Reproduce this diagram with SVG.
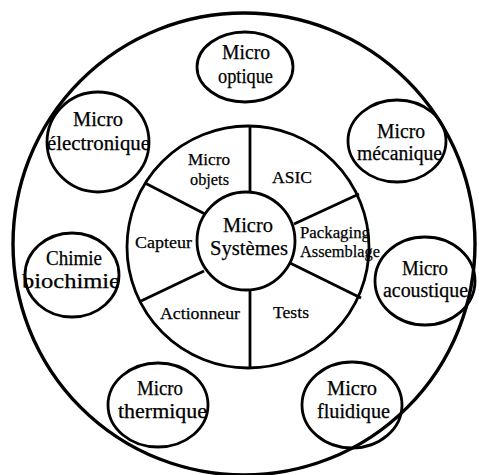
<svg xmlns="http://www.w3.org/2000/svg" width="479" height="475" viewBox="0 0 479 475">
<style>
.c{fill:none;stroke:#000;stroke-width:2.8}
.o{fill:none;stroke:#000;stroke-width:3.4}
.l{stroke:#000;stroke-width:2.8;fill:none}
text{font-family:"Liberation Serif","Times New Roman",serif;fill:#000;text-anchor:middle;stroke:#000;stroke-width:0.25}
.t{font-size:20px}
.s{font-size:17.5px}
.m{font-size:21.5px}
</style>
<rect width="479" height="475" fill="#fff"/>
<g id="outer"><circle class="o" cx="244" cy="244" r="231"/></g>
<g id="ring"><circle class="c" cx="248" cy="247" r="121"/></g>
<g id="connectors">
<line class="l" x1="250" y1="127" x2="250" y2="192"/>
<line class="l" x1="145" y1="183" x2="205" y2="214"/>
<line class="l" x1="359" y1="194" x2="294" y2="224"/>
<line class="l" x1="141" y1="301" x2="204" y2="271"/>
<line class="l" x1="290" y1="263" x2="361" y2="298"/>
<line class="l" x1="250" y1="290" x2="250" y2="368"/>
</g>
<g id="center"><circle class="c" cx="246" cy="241" r="49"/>
<text class="m" x="248" y="232" textLength="50" lengthAdjust="spacingAndGlyphs">Micro</text>
<text class="m" x="249" y="255" textLength="78" lengthAdjust="spacingAndGlyphs">Systèmes</text></g>
<g id="microobjets"><text class="s" x="209" y="165" textLength="42" lengthAdjust="spacingAndGlyphs">Micro</text><text class="s" x="209.5" y="185" textLength="39" lengthAdjust="spacingAndGlyphs">objets</text></g>
<g id="asic"><text class="s" x="292" y="183" textLength="40" lengthAdjust="spacingAndGlyphs">ASIC</text></g>
<g id="capteur"><text class="s" x="163.5" y="248" textLength="57" lengthAdjust="spacingAndGlyphs">Capteur</text></g>
<g id="packaging"><text class="s" x="335" y="238" textLength="70" lengthAdjust="spacingAndGlyphs">Packaging</text><text class="s" x="340" y="257" textLength="80" lengthAdjust="spacingAndGlyphs">Assemblage</text></g>
<g id="actionneur"><text class="s" x="200" y="319" textLength="80" lengthAdjust="spacingAndGlyphs">Actionneur</text></g>
<g id="tests"><text class="s" x="291" y="318" textLength="36" lengthAdjust="spacingAndGlyphs">Tests</text></g>
<g id="optique"><ellipse class="c" cx="245" cy="67" rx="48" ry="35"/>
<text class="t" x="246" y="59" textLength="48" lengthAdjust="spacingAndGlyphs">Micro</text><text class="t" x="245.5" y="83" textLength="55" lengthAdjust="spacingAndGlyphs">optique</text></g>
<g id="electronique"><ellipse class="c" cx="98" cy="142" rx="51" ry="50"/>
<text class="t" x="98" y="126" textLength="50" lengthAdjust="spacingAndGlyphs">Micro</text><text class="t" x="98.5" y="150" textLength="103" lengthAdjust="spacingAndGlyphs">électronique</text></g>
<g id="mecanique"><ellipse class="c" cx="397" cy="141" rx="49" ry="41"/>
<text class="t" x="401" y="138" textLength="48" lengthAdjust="spacingAndGlyphs">Micro</text><text class="t" x="399.5" y="160" textLength="85" lengthAdjust="spacingAndGlyphs">mécanique</text></g>
<g id="chimie"><ellipse class="c" cx="72" cy="275" rx="47" ry="42"/>
<text class="t" x="74" y="265" textLength="56" lengthAdjust="spacingAndGlyphs">Chimie</text><text class="t" x="71" y="288" textLength="98" lengthAdjust="spacingAndGlyphs">biochimie</text></g>
<g id="acoustique"><ellipse class="c" cx="425" cy="281" rx="50" ry="44"/>
<text class="t" x="425" y="275" textLength="46" lengthAdjust="spacingAndGlyphs">Micro</text><text class="t" x="425.5" y="297" textLength="85" lengthAdjust="spacingAndGlyphs">acoustique</text></g>
<g id="thermique"><ellipse class="c" cx="158" cy="405" rx="50" ry="42"/>
<text class="t" x="160" y="395" textLength="46" lengthAdjust="spacingAndGlyphs">Micro</text><text class="t" x="162.5" y="418" textLength="89" lengthAdjust="spacingAndGlyphs">thermique</text></g>
<g id="fluidique"><ellipse class="c" cx="352" cy="405" rx="50" ry="43"/>
<text class="t" x="352" y="395" textLength="50" lengthAdjust="spacingAndGlyphs">Micro</text><text class="t" x="353.5" y="418" textLength="73" lengthAdjust="spacingAndGlyphs">fluidique</text></g>
</svg>
